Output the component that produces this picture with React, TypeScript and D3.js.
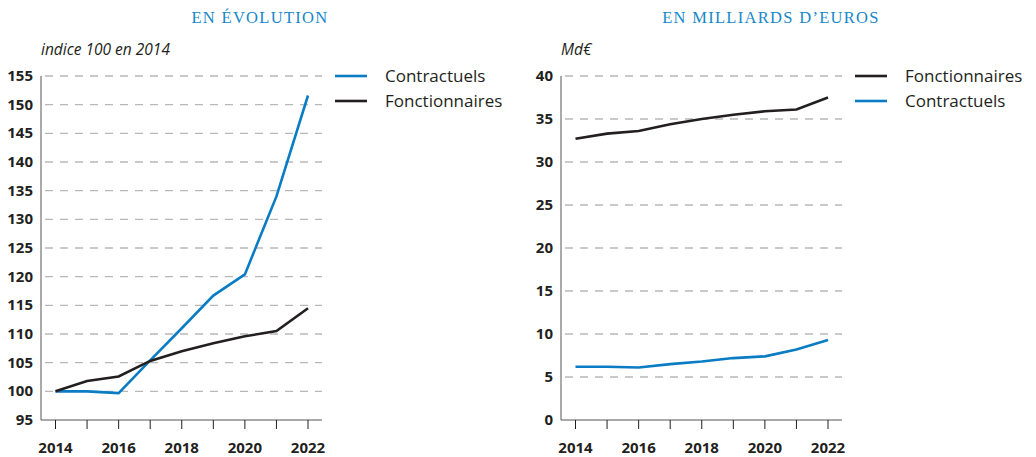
import React, { useEffect, useRef } from "react";
import * as d3 from "d3";

const years = [2014, 2015, 2016, 2017, 2018, 2019, 2020, 2021, 2022];
const yearLabels = [2014, 2016, 2018, 2020, 2022];

// indice 100 en 2014
const indexContractuels = [100, 100, 99.7, 105.4, 111, 116.7, 120.4, 134, 151.6];
const indexFonctionnaires = [100, 101.8, 102.6, 105.3, 107, 108.4, 109.6, 110.5, 114.5];

// Md€
const mdFonctionnaires = [32.7, 33.3, 33.6, 34.4, 35, 35.5, 35.9, 36.1, 37.5];
const mdContractuels = [6.2, 6.2, 6.1, 6.5, 6.8, 7.2, 7.4, 8.2, 9.3];

const BLUE = "#0a7cc4";
const DARK = "#231f20";
const FONT = "'Open Sans', 'Noto Sans', sans-serif";

const Panel = ({ x0, title, titleX, unit, domain, ticks, series }) => {
    const ref = useRef(null);

    useEffect(() => {
        const g = d3.select(ref.current);
        g.selectAll("*").remove();

        const left = 41, right = 322, top = 76, bottom = 420;

        const x = d3.scaleLinear().domain([2014, 2022]).range([55.5, 308]);
        const y = d3.scaleLinear().domain(domain).range([bottom, top]);

        g.append("text")
            .attr("x", titleX)
            .attr("y", 23)
            .attr("text-anchor", "middle")
            .style("font-family", "'Liberation Serif', serif")
            .style("font-size", "16.5px")
            .style("letter-spacing", "1.3px")
            .style("fill", "#1687c9")
            .text(title);

        g.append("text")
            .attr("x", left)
            .attr("y", 55)
            .style("font-family", FONT)
            .style("font-style", "italic")
            .style("font-size", "15.5px")
            .style("fill", DARK)
            .text(unit);

        // grid
        g.selectAll(".grid")
            .data(ticks.slice(1))
            .join("line")
            .attr("x1", left + 4)
            .attr("x2", right)
            .attr("y1", d => y(d))
            .attr("y2", d => y(d))
            .attr("stroke", "#b8b8b8")
            .attr("stroke-width", 1.3)
            .attr("stroke-dasharray", "8,7");

        g.selectAll(".ylab")
            .data(ticks)
            .join("text")
            .attr("x", 33)
            .attr("y", d => y(d) + 5)
            .attr("text-anchor", "end")
            .style("font-family", FONT)
            .style("font-weight", "bold")
            .style("font-size", "15px")
            .style("fill", DARK)
            .text(d => d);

        // axes
        g.append("line")
            .attr("x1", left).attr("x2", left)
            .attr("y1", top).attr("y2", bottom)
            .attr("stroke", "#555").attr("stroke-width", 1);
        g.append("line")
            .attr("x1", left).attr("x2", right)
            .attr("y1", bottom).attr("y2", bottom)
            .attr("stroke", "#555").attr("stroke-width", 1);

        g.selectAll(".xtick")
            .data(years)
            .join("line")
            .attr("x1", d => x(d)).attr("x2", d => x(d))
            .attr("y1", bottom).attr("y2", bottom + 9)
            .attr("stroke", DARK).attr("stroke-width", 1);

        g.selectAll(".xlab")
            .data(yearLabels)
            .join("text")
            .attr("x", d => x(d))
            .attr("y", bottom + 33)
            .attr("text-anchor", "middle")
            .style("font-family", FONT)
            .style("font-weight", "bold")
            .style("font-size", "15px")
            .style("fill", DARK)
            .text(d => d);

        const line = d3.line()
            .x((d, i) => x(years[i]))
            .y(d => y(d));

        series.forEach(s => {
            g.append("path")
                .attr("d", line(s.values))
                .attr("fill", "none")
                .attr("stroke", s.color)
                .attr("stroke-width", 2.6);
        });

        // legend
        series.forEach((s, i) => {
            const ly = 76 + i * 25;
            g.append("line")
                .attr("x1", 335).attr("x2", 367)
                .attr("y1", ly).attr("y2", ly)
                .attr("stroke", s.color)
                .attr("stroke-width", 2.6);
            g.append("text")
                .attr("x", 385)
                .attr("y", ly + 6)
                .style("font-family", FONT)
                .style("font-size", "17px")
                .style("fill", DARK)
                .text(s.name);
        });
    }, []);

    return <g ref={ref} transform={`translate(${x0},0)`} />;
};

export default function App() {
    return (
        <svg width={1036} height={457} style={{ display: "block", position: "absolute", left: 0, top: 0 }}>
            <rect width={1036} height={457} fill="#fff" />
            <Panel
                x0={0}
                title="EN ÉVOLUTION"
                titleX={260}
                unit="indice 100 en 2014"
                domain={[95, 155]}
                ticks={d3.range(95, 156, 5)}
                series={[
                    { name: "Contractuels", values: indexContractuels, color: BLUE },
                    { name: "Fonctionnaires", values: indexFonctionnaires, color: DARK },
                ]}
            />
            <Panel
                x0={520}
                title="EN MILLIARDS D’EUROS"
                titleX={251}
                unit="Md€"
                domain={[0, 40]}
                ticks={d3.range(0, 41, 5)}
                series={[
                    { name: "Fonctionnaires", values: mdFonctionnaires, color: DARK },
                    { name: "Contractuels", values: mdContractuels, color: BLUE },
                ]}
            />
        </svg>
    );
}
